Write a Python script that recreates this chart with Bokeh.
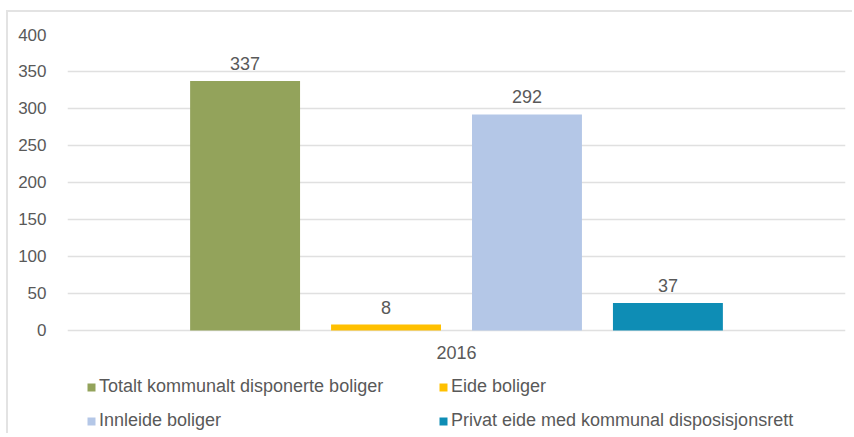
from bokeh.plotting import figure
from bokeh.models import ColumnDataSource, FactorRange, Legend, LegendItem, LabelSet, Range1d
from bokeh.core.properties import value
from bokeh.transform import dodge
from bokeh.embed import file_html
from bokeh.resources import INLINE

years = ["2016"]
series = ["Totalt kommunalt disponerte boliger", "Eide boliger",
          "Innleide boliger", "Privat eide med kommunal disposisjonsrett"]
values = [337, 8, 292, 37]
colors = ["#93A35B", "#FFC000", "#B4C7E7", "#0E8DB5"]
offsets = [-0.375, -0.125, 0.125, 0.375]
y_ticks = [0, 50, 100, 150, 200, 250, 300, 350, 400]

FONT = "Liberation Sans"
TXT = "#595959"

# frame extends below zero so the category label and the legend live inside it
p = figure(width=846, height=423, output_backend="svg", toolbar_location=None,
           x_range=FactorRange(factors=years, range_padding=0.19, range_padding_units="absolute"),
           y_range=Range1d(-142, 400), x_axis_location=None,
           min_border_left=59, min_border_right=9, min_border_top=22, min_border_bottom=0,
           outline_line_color=None, background_fill_color="white", border_fill_color="white")
p.styles = {"border-top": "2px solid #e3e3e3", "border-left": "2px solid #e3e3e3",
            "margin-top": "10px", "margin-left": "6px"}

items = []
for s, v, c, off in zip(series, values, colors, offsets):
    src = ColumnDataSource(dict(year=years, val=[v], lab=[str(v)]))
    r = p.vbar(x=dodge("year", off, range=p.x_range), top="val", bottom=0, width=0.195,
               source=src, fill_color=c, line_color=None)
    items.append(LegendItem(label=s, renderers=[r]))
    lbl = LabelSet(x=dodge("year", off, range=p.x_range), y="val", text="lab", source=src,
                   text_align="center", text_baseline="bottom", y_offset=11,
                   text_font=value(FONT), text_font_size=value("18px"), text_color=value(TXT))
    p.add_layout(lbl)

cat_src = ColumnDataSource(dict(year=years, base=[0]))
p.add_layout(LabelSet(x="year", y="base", text="year", source=cat_src,
                      text_align="center", text_baseline="middle", y_offset=-22,
                      text_font=value(FONT), text_font_size=value("18px"), text_color=value(TXT)))

p.yaxis.ticker = y_ticks
p.yaxis.axis_line_color = None
p.yaxis.major_tick_line_color = None
p.yaxis.minor_tick_line_color = None
p.yaxis.major_label_standoff = 15
p.yaxis.major_label_text_font = FONT
p.yaxis.major_label_text_font_size = "17px"
p.yaxis.major_label_text_color = TXT

p.xgrid.grid_line_color = None
p.ygrid.ticker = y_ticks
p.ygrid.grid_line_color = "#e0e0e0"
p.ygrid.grid_line_width = 1.5

legend = Legend(items=items, location=(19, 4), orientation="horizontal", ncols=2,
                glyph_width=10, glyph_height=10, label_standoff=3, label_width=326,
                label_height=16, spacing=13, padding=0, margin=0,
                border_line_color=None, background_fill_alpha=0,
                label_text_font=FONT, label_text_font_size="18px", label_text_color=TXT)
p.add_layout(legend, "center")

open("out.html", "w").write(file_html(p, INLINE))
